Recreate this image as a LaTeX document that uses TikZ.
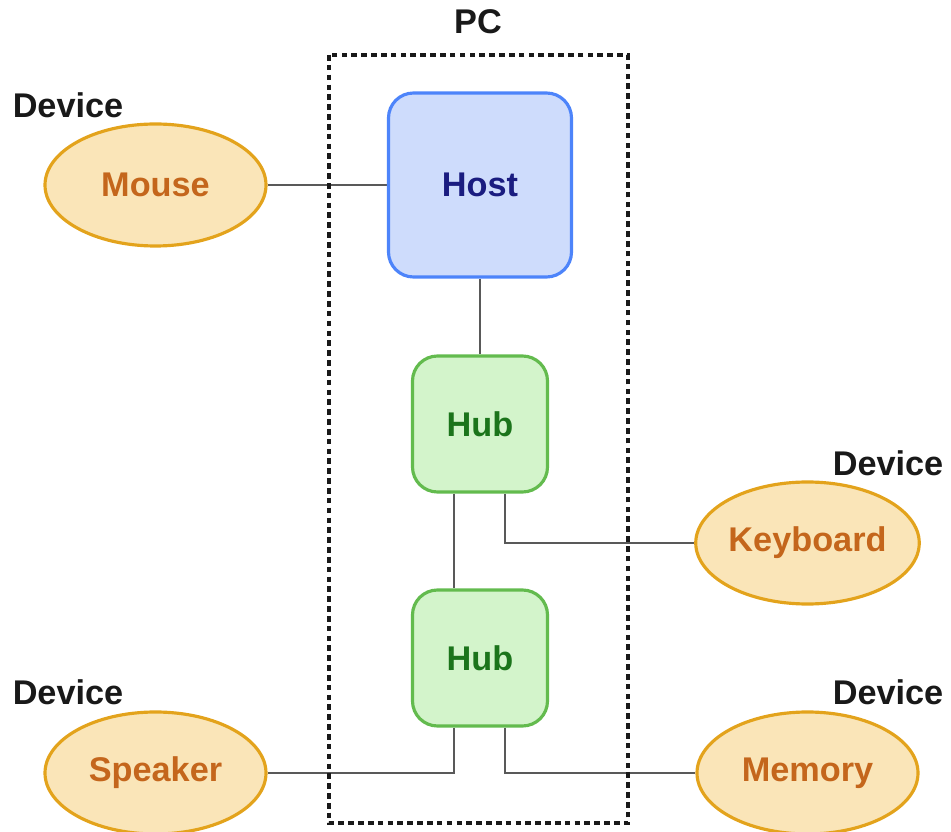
\documentclass[tikz,border=0pt]{standalone}
\usepackage{fontspec}
\setmainfont{Liberation Sans}
\usetikzlibrary{positioning, backgrounds, shapes}

\definecolor{devfill}{HTML}{FAE5B8}
\definecolor{devline}{HTML}{E3A31C}
\definecolor{devtext}{HTML}{C4661C}
\definecolor{hostfill}{HTML}{CEDCFC}
\definecolor{hostline}{HTML}{4D84FA}
\definecolor{hosttext}{HTML}{1A1C80}
\definecolor{hubfill}{HTML}{D3F4CB}
\definecolor{hubline}{HTML}{63BB4E}
\definecolor{hubtext}{HTML}{1B741B}
\definecolor{linkgray}{HTML}{595959}

\tikzset{
  every node/.style={font=\fontsize{19.5}{22}\selectfont\bfseries},
  device/.style={ellipse, draw=devline, fill=devfill, line width=1.8pt, text=devtext,
    minimum width=4.42cm, minimum height=2.44cm, inner sep=0pt},
  hostbox/.style={rectangle, rounded corners=0.5cm, draw=hostline, fill=hostfill,
    line width=1.8pt, text=hosttext, minimum width=3.66cm, minimum height=3.68cm},
  hubbox/.style={rectangle, rounded corners=0.5cm, draw=hubline, fill=hubfill,
    line width=1.8pt, text=hubtext, minimum width=2.7cm, minimum height=2.72cm},
  tag/.style={text=black!90},
  link/.style={draw=linkgray, line width=1.5pt},
  pcframe/.style={draw=black!90, line width=2pt, dash pattern=on 3.2pt off 2.4pt}
}

\begin{document}
\begin{tikzpicture}
  \useasboundingbox (0, 0) rectangle (19.02, -16.64);

  \node[hostbox] (host) at (9.6, -3.7) {Host};
  \node[hubbox] (hub1) at (9.6, -8.48) {Hub};
  \node[hubbox] (hub2) at (9.6, -13.16) {Hub};

  \node[device] (mouse) at (3.11, -3.7) {Mouse};
  \node[device] (keyboard) at (16.15, -10.86) {Keyboard};
  \node[device] (speaker) at (3.11, -15.46) {Speaker};
  \node[device] (memory) at (16.15, -15.46) {Memory};

  \node[tag] (tag1) at (1.36, -2.1) {Device};
  \node[tag] (tag2) at (17.76, -9.26) {Device};
  \node[tag] (tag3) at (1.36, -13.84) {Device};
  \node[tag] (tag4) at (17.76, -13.84) {Device};

  \node[tag] (pc) at (9.56, -0.44) {PC};

  \begin{scope}[on background layer]
    \path[link] (mouse) -- (host);
    \path[link] (host) -- (hub1);
    \path[link] ([xshift=-0.52cm]hub1.south) -- ([xshift=-0.52cm]hub2.north);
    \path[link] ([xshift=0.5cm]hub1.south) |- (keyboard);
    \path[link] ([xshift=-0.52cm]hub2.south) |- (speaker);
    \path[link] ([xshift=0.5cm]hub2.south) |- (memory);
  \end{scope}

  \draw[pcframe] (6.58, -1.1) rectangle (12.56, -16.46);
\end{tikzpicture}
\end{document}
